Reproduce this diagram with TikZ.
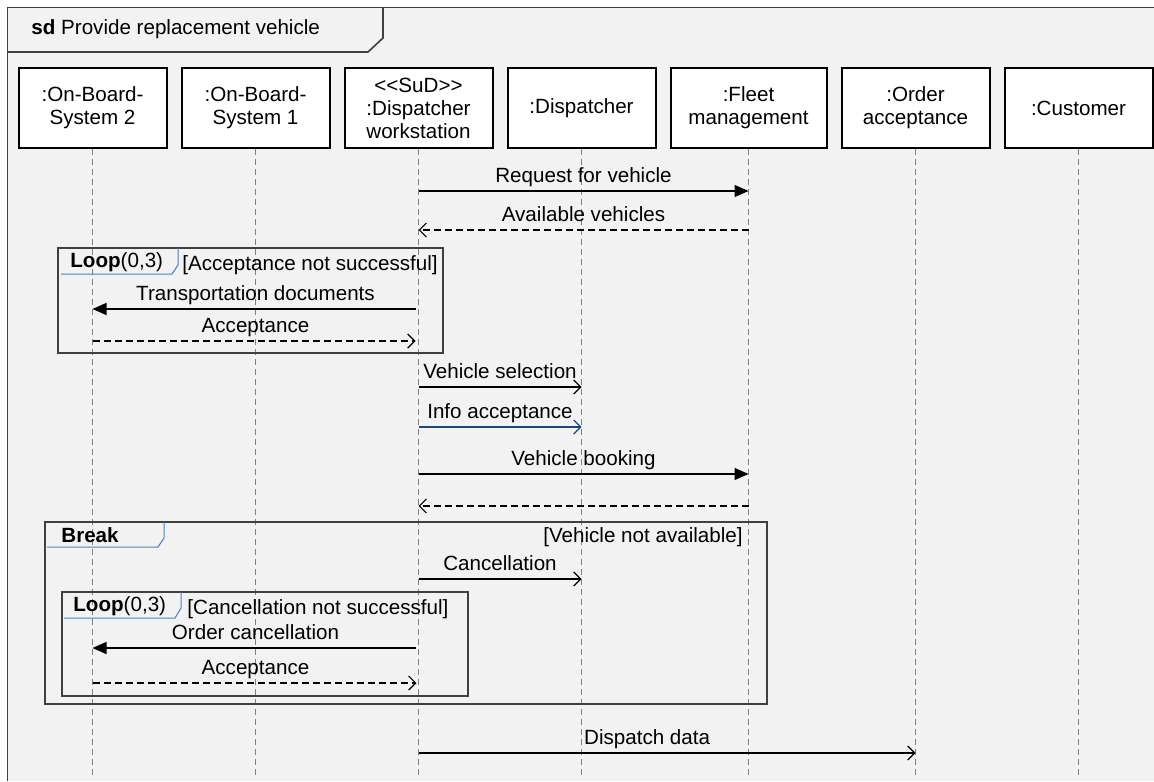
\documentclass[tikz,border=0pt]{standalone}
\usepackage{fontspec}
\setmainfont{Liberation Sans}
\usepackage{xcolor}
\usetikzlibrary{positioning,arrows.meta}
\definecolor{bgc}{RGB}{242,242,242}
\definecolor{framec}{RGB}{64,64,64}
\definecolor{tabc}{RGB}{79,129,189}
\definecolor{infoc}{RGB}{31,73,125}

\begin{document}
\begin{tikzpicture}[
  x=0.5pt, y=-0.5pt,
  font=\fontsize{10.3}{11.5}\selectfont,
  node distance=6.5pt,
  obj/.style={draw=black, fill=white, line width=1pt, align=center, minimum width=74pt, minimum height=40pt, inner sep=1pt},
  lifeline/.style={draw=gray, dash pattern=on 3pt off 2pt, line width=.5pt},
  sync/.style={-{Triangle[length=7pt,width=6pt]}, draw=black, line width=.6pt},
  async/.style={-{Straight Barb[length=3.5pt,width=7pt]}, draw=black, line width=.6pt},
  reply/.style={async, dash pattern=on 3.5pt off 2pt},
  msg/.style={above, inner sep=1.5pt, text depth=.25em},
  frame/.style={draw=framec, line width=.7pt},
  tab/.style={draw=tabc, line width=.5pt},
  txt/.style={inner sep=0pt}
]
\useasboundingbox (0,0) rectangle (1154,781);
\fill[white] (0,0) rectangle (1154,781);
\fill[bgc] (7.5,7.5) rectangle (1154,781);
\draw[frame, line width=.8pt] (1154,7.5) -- (7.5,7.5) -- (7.5,781);
\draw[frame, line width=.8pt] (7.5,52) -- (368,52) -- (383,38) -- (383,7.5);
\node[txt, anchor=west] (title) at (31,29) {\textbf{sd} Provide replacement vehicle};

% lifelines
\node[obj] (obs2) at (92.5,108) {:On-Board-\\System 2};
\node[obj, right=of obs2] (obs1) {:On-Board-\\System 1};
\node[obj, right=of obs1] (dws) {<{}<SuD>{}>\\:Dispatcher\\workstation};
\node[obj, right=of dws] (disp) {:Dispatcher};
\node[obj, right=of disp, minimum width=78pt] (fleet) {:Fleet\\management};
\node[obj, right=of fleet] (order) {:Order\\acceptance};
\node[obj, right=of order] (cust) {:Customer};
\coordinate (bottom) at (0,775);
\foreach \o in {obs2,obs1,dws,disp,fleet,order,cust}
  \draw[lifeline] (\o.south) -- (\o |- bottom);

% messages
\draw[sync] (dws |- 0,191) -- (fleet |- 0,191) node[msg, midway] (m1) {Request for vehicle};
\draw[reply] (fleet |- 0,230) -- (dws |- 0,230) node[msg, midway] (m2) {Available vehicles};

% loop 1
\draw[frame] (58,248) rectangle (443,353);
\draw[tab] (178,248) -- (178,265) -- (172,274) -- (61,274);
\node[txt, anchor=west] (loop1) at (70,262) {\textbf{Loop}(0,3)};
\node[txt, anchor=west] (guard1) at (182,265) {[Acceptance not successful]};
\draw[sync, shorten <=1.5pt] (dws |- 0,309) -- (obs2 |- 0,309) node[msg, midway] (m3) {Transportation documents};
\draw[reply, shorten >=1.5pt] (obs2 |- 0,341) -- (dws |- 0,341) node[msg, midway] (m4) {Acceptance};

\draw[async] (dws |- 0,387) -- (disp |- 0,387) node[msg, midway] (m5) {Vehicle selection};
\draw[async, draw=infoc] (dws |- 0,427) -- (disp |- 0,427) node[msg, midway, text=black] (m6) {Info acceptance};
\draw[sync] (dws |- 0,474) -- (fleet |- 0,474) node[msg, midway] (m7) {Vehicle booking};
\draw[reply] (fleet |- 0,506) -- (dws |- 0,506);

% break
\draw[frame] (45,522) rectangle (767,704);
\draw[tab] (164,522) -- (164,538) -- (158,547) -- (47,547);
\node[txt, anchor=west] (brk) at (61,535) {\textbf{Break}};
\node[txt, anchor=east] (guard2) at (743,537) {[Vehicle not available]};
\draw[async] (dws |- 0,579) -- (disp |- 0,579) node[msg, midway] (m8) {Cancellation};

% loop 2
\draw[frame] (62,592) rectangle (468,696);
\draw[tab] (181,592) -- (181,608) -- (175,618) -- (64,618);
\node[txt, anchor=west] (loop2) at (73,606) {\textbf{Loop}(0,3)};
\node[txt, anchor=west] (guard3) at (187,609) {[Cancellation not successful]};
\draw[sync, shorten <=1.5pt] (dws |- 0,648) -- (obs2 |- 0,648) node[msg, midway] (m9) {Order cancellation};
\draw[reply, shorten >=1pt] (obs2 |- 0,683) -- (dws |- 0,683) node[msg, midway] (m10) {Acceptance};

\draw[async] (dws |- 0,753) -- (order |- 0,753) node[msg, pos=.46] (m11) {Dispatch data};
\end{tikzpicture}
\end{document}
